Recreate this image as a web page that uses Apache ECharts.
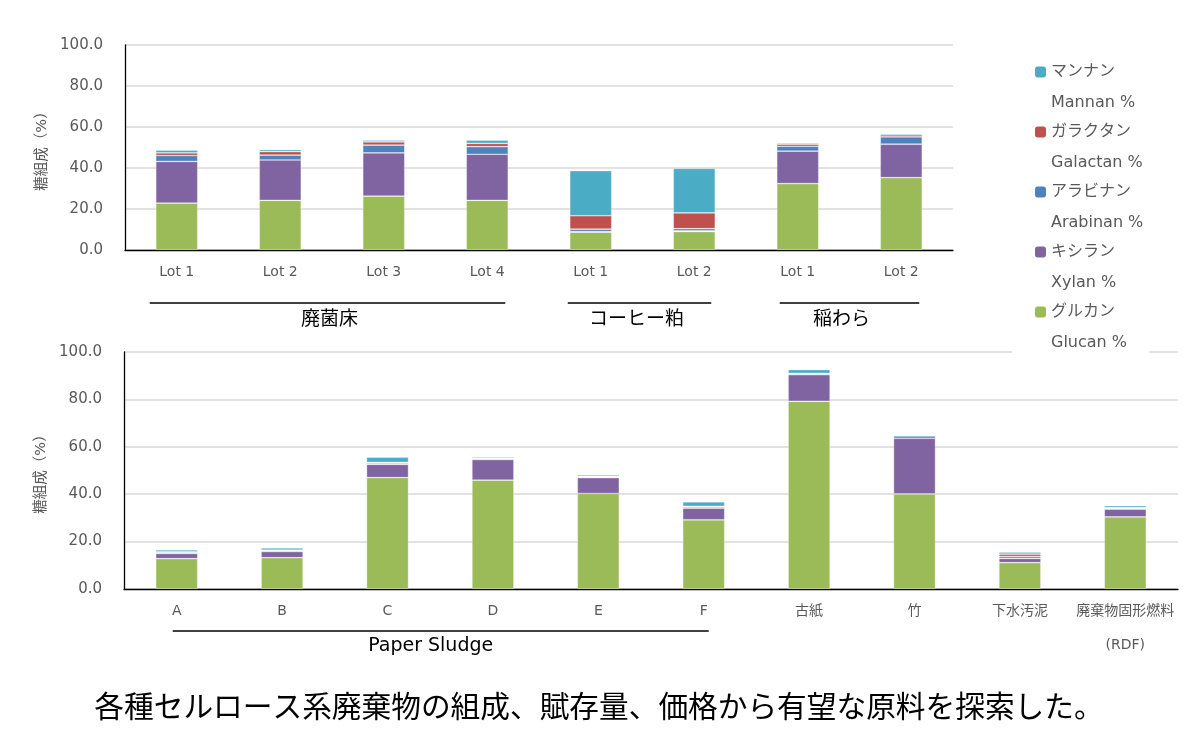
<!DOCTYPE html>
<html><head><meta charset="utf-8">
<script src="https://cdn.jsdelivr.net/npm/echarts@6/dist/echarts.min.js"></script>
<style>html,body{margin:0;padding:0;background:#fff}#c{width:1197px;height:731px}</style>
</head><body><div id="c"></div>
<script>
// ---- data ----
const seriesNames = ['グルカン', 'キシラン', 'アラビナン', 'ガラクタン', 'マンナン'];
const seriesNamesEn = ['Glucan %', 'Xylan %', 'Arabinan %', 'Galactan %', 'Mannan %'];
const legendOrder = ['マンナン', 'ガラクタン', 'アラビナン', 'キシラン', 'グルカン'];

const topCategories = ['Lot 1', 'Lot 2', 'Lot 3', 'Lot 4', 'Lot 1', 'Lot 2', 'Lot 1', 'Lot 2'];
const topGlucan   = [22.9, 24.2, 26.3, 24.2, 8.7, 9.0, 32.4, 35.3];
const topXylan    = [20.3, 19.7, 21.1, 22.5, 0.3, 0.3, 15.8, 16.3];
const topArabinan = [2.9, 2.4, 3.8, 3.7, 1.2, 1.1, 2.4, 3.6];
const topGalactan = [1.3, 1.7, 1.5, 1.6, 6.5, 7.7, 1.0, 1.0];
const topMannan   = [1.3, 1.0, 0.9, 1.6, 22.0, 21.7, 0.6, 0.5];
const topGroups = [
  { name: '廃菌床', from: 0, to: 3 },
  { name: 'コーヒー粕', from: 4, to: 5 },
  { name: '稲わら', from: 6, to: 7 }
];

const bottomCategories = ['A', 'B', 'C', 'D', 'E', 'F', '古紙', '竹', '下水汚泥', '廃棄物固形燃料\n(RDF)'];
const bottomGlucan   = [12.8, 13.2, 47.0, 45.9, 40.3, 29.2, 79.2, 40.1, 11.1, 30.4];
const bottomXylan    = [2.2, 2.6, 5.6, 8.7, 6.7, 4.9, 11.2, 23.5, 1.8, 3.3];
const bottomArabinan = [0.4, 0.4, 0.5, 0.4, 0.3, 0.5, 0.4, 1.0, 0.8, 0.3];
const bottomGalactan = [0.3, 0.2, 0.3, 0.2, 0.2, 0.3, 0.2, 0.1, 1.0, 0.4];
const bottomMannan   = [0.8, 0.9, 2.2, 0.5, 0.6, 1.9, 1.6, 0.2, 0.9, 0.8];
const bottomGroups = [
  { name: 'Paper Sludge', from: 0, to: 5 }
];

const yMin = 0, yMax = 100, yInterval = 20;
const yAxisTitle = '糖組成（%）';
const caption = '各種セルロース系廃棄物の組成、賦存量、価格から有望な原料を探索した。';

// ---- styles ----
const colors = { 'グルカン': '#9BBB59', 'キシラン': '#8064A2', 'アラビナン': '#4F81BD', 'ガラクタン': '#C0504D', 'マンナン': '#4BACC6' };
const FONT = "'DejaVu Sans', 'Noto Sans CJK JP', sans-serif";
const GRAY = '#595959';
// bracket line offsets (px) from first/last category centers, and label shift
const topGroupStyle = [{ l: -27, r: 18, dx: 2 }, { l: -23, r: 17, dx: -3 }, { l: -18, r: 18, dx: -8 }];
const bottomGroupStyle = [{ l: -4, r: 5, dx: -10 }];

const topData = [topGlucan, topXylan, topArabinan, topGalactan, topMannan];
const bottomData = [bottomGlucan, bottomXylan, bottomArabinan, bottomGalactan, bottomMannan];
const enMap = {};
seriesNames.forEach((n, i) => enMap[n] = seriesNamesEn[i]);

function makeSeries(dataSets, axisIdx, stack) {
  return seriesNames.map((n, i) => ({
    name: n, type: 'bar', stack: stack, xAxisIndex: axisIdx, yAxisIndex: axisIdx,
    data: dataSets[i], barWidth: 42,
    itemStyle: { color: colors[n], borderColor: 'rgba(255,255,255,0.45)', borderWidth: 0.7 },
    emphasis: { disabled: true }
  }));
}

function yAxis(gridIndex) {
  return {
    type: 'value', gridIndex, min: yMin, max: yMax, interval: yInterval,
    name: yAxisTitle, nameLocation: 'middle', nameRotate: 90, nameGap: 76,
    nameTextStyle: { color: GRAY, fontSize: 14.5, fontFamily: FONT },
    axisLine: { show: true, lineStyle: { color: '#000', width: 1.3 } },
    axisTick: { show: false },
    axisLabel: { color: GRAY, fontSize: 15, fontFamily: FONT, margin: 22, formatter: v => v.toFixed(1) },
    splitLine: { show: true, lineStyle: { color: '#d9d9d9', width: 1.5 } }
  };
}
function xAxis(gridIndex, cats, margin, lh) {
  return {
    type: 'category', gridIndex, data: cats,
    axisLine: { show: true, lineStyle: { color: '#000', width: 1.3 } },
    axisTick: { show: false },
    axisLabel: { color: GRAY, fontSize: 14, fontFamily: FONT, margin, lineHeight: lh, interval: 0 }
  };
}

const chart = echarts.init(document.getElementById('c'), null, { renderer: 'canvas' });
chart.setOption({
  animation: false,
  backgroundColor: '#fff',
  grid: [
    { left: 125, top: 45, width: 828, height: 205 },
    { left: 124, top: 352, width: 1054, height: 237 }
  ],
  xAxis: [xAxis(0, topCategories, 12, 20), xAxis(1, bottomCategories, 5, 34)],
  yAxis: [yAxis(0), yAxis(1)],
  legend: {
    data: legendOrder, orient: 'vertical', left: 1012, top: 33,
    padding: [0, 6, 4, 23], itemGap: -18, itemWidth: 11, itemHeight: 11,
    backgroundColor: '#fff', z: 10, selectedMode: false,
    itemStyle: { borderWidth: 0 },
    formatter: n => `{sp| }\n{jp|${n}}\n{en|${enMap[n]}}`,
    textStyle: {
      color: GRAY, fontFamily: FONT, fontSize: 16,
      rich: {
        sp: { lineHeight: 42, fontSize: 16, fontFamily: FONT },
        jp: { lineHeight: 20, fontSize: 16, color: GRAY, fontFamily: FONT },
        en: { lineHeight: 42, fontSize: 16, color: GRAY, fontFamily: FONT }
      }
    }
  },
  series: [...makeSeries(topData, 0, 'top'), ...makeSeries(bottomData, 1, 'bottom')]
});

function groupGraphics(groups, styles, axisIdx, lineY, textY) {
  const out = [];
  groups.forEach((g, i) => {
    const s = styles[i];
    const x1 = chart.convertToPixel({ xAxisIndex: axisIdx }, g.from) + s.l;
    const x2 = chart.convertToPixel({ xAxisIndex: axisIdx }, g.to) + s.r;
    out.push({ type: 'line', shape: { x1, y1: lineY, x2, y2: lineY }, style: { stroke: '#000', lineWidth: 1.5 } });
    out.push({ type: 'text', x: (x1 + x2) / 2 + s.dx, y: textY,
      style: { text: g.name, fill: '#000', fontSize: 19, fontFamily: FONT, align: 'center', verticalAlign: 'middle' } });
  });
  return out;
}

chart.setOption({
  graphic: [
    ...groupGraphics(topGroups, topGroupStyle, 0, 303, 320),
    ...groupGraphics(bottomGroups, bottomGroupStyle, 1, 631, 646),
    { type: 'text', x: 599, y: 706,
      style: { text: caption, fill: '#000', fontSize: 29.7, fontFamily: "'Noto Sans CJK JP', sans-serif", align: 'center', verticalAlign: 'middle' } }
  ]
});
</script></body></html>
